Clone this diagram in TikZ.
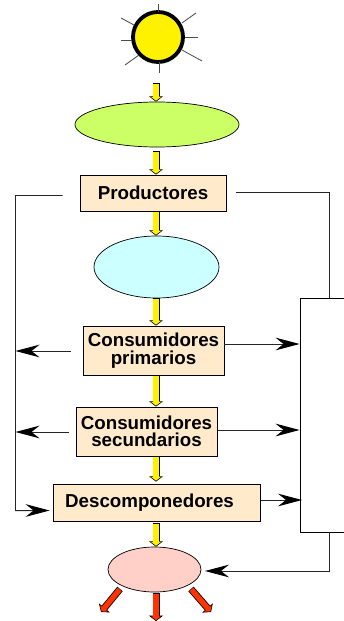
\documentclass[tikz,border=0pt]{standalone}
\usepackage{fontspec}
\setmainfont{Liberation Sans}
\usetikzlibrary{arrows.meta,shapes.geometric}
\definecolor{boxfill}{HTML}{FFEBCC}
\definecolor{algae}{HTML}{CCFF66}
\definecolor{water}{HTML}{CCFFFF}
\definecolor{rose}{HTML}{FFD0C8}
\definecolor{heat}{HTML}{FF3300}
\tikzset{
	trophic/.style={draw,fill=boxfill,line width=.7pt,inner sep=0pt,align=center,font=\fontsize{16}{15}\selectfont\bfseries},
	pool/.style={draw,ellipse,line width=.6pt,inner sep=0pt},
	flow/.style={draw=black,line width=.21cm,-{Triangle[length=.16cm,width=.42cm,line width=.5pt,fill=#1]},
		postaction={draw=#1,line width=.16cm,shorten >=.12cm,shorten <=.5pt,-}},
	link/.style={draw=black!85,line width=.85pt,-{Stealth[length=.72cm,width=.38cm,inset=.24cm,black]}},
	ray/.style={draw=black!70,line width=.7pt}
}
\begin{document}
\begin{tikzpicture}[x=.03cm,y=-.03cm]
	\clip (0,0) rectangle (344,621);
	\coordinate (axis) at (156,0);
	% sun
	\node[circle,draw,fill=yellow,line width=.115cm,minimum size=1.5cm,inner sep=0pt] (sun) at (158,37) {};
	\draw[ray] (158,4) -- (158,12);
	\draw[ray] (196,13) -- (182,23);
	\draw[ray] (198,37) -- (185,37);
	\draw[ray] (202,61) -- (182,50);
	\draw[ray] (159,73) -- (159,62);
	\draw[ray] (125,65) -- (139,55);
	\draw[ray] (121,40) -- (132,40);
	\draw[ray] (121,18) -- (134,25);
	% levels
	\node[pool,fill=algae,minimum width=4.92cm,minimum height=1.35cm] (algae) at (157,124.5) {};
	\node[trophic,minimum width=4.38cm,minimum height=1.08cm] (prod) at (153,193) {Productores};
	\node[pool,fill=water,minimum width=3.75cm,minimum height=1.86cm] (water) at (156.5,267) {};
	\node[trophic,minimum width=4.23cm,minimum height=1.47cm] (prim) at (153.5,350.5) {Consumidores\\primarios};
	\node[trophic,minimum width=4.23cm,minimum height=1.47cm] (sec) at (146.5,431.5) {Consumidores\\secundarios};
	\node[trophic,minimum width=6.21cm,minimum height=1.11cm] (desc) at (156.5,502.5) {Descomponedores\hspace*{.42cm}};
	\node[pool,fill=rose,minimum width=2.79cm,minimum height=1.35cm] (rest) at (154.5,569.5) {};
	\node[draw,line width=.7pt,fill=white,minimum width=1.8cm,minimum height=7.02cm,inner sep=0pt] (sink) at (330,415) {};
	% free ends
	\coordinate (a0) at (156,83);
	\coordinate (a1) at (156,151);
	\coordinate (a6) at (156,523);
	\coordinate (r1) at (120,589);
	\coordinate (r2) at (101,612);
	\coordinate (r3) at (156,593);
	\coordinate (r4) at (156,621);
	\coordinate (r5) at (191,589);
	\coordinate (r6) at (211,612);
	\coordinate (lefttop) at (15.5,195.5);
	\coordinate (righttop) at (329,192);
	\coordinate (rightlow) at (329,571);
	% yellow flow
	\draw[flow=yellow] (a0) -- (axis |- algae.north);
	\draw[flow=yellow] (a1) -- (axis |- prod.north);
	\draw[flow=yellow] (axis |- prod.south) -- (axis |- water.north);
	\draw[flow=yellow] (axis |- water.south) -- (axis |- prim.north);
	\draw[flow=yellow] (axis |- prim.south) -- (axis |- sec.north);
	\draw[flow=yellow] (axis |- sec.south) -- ([yshift=.06cm]axis |- desc.north);
	\draw[flow=yellow] (a6) -- (axis |- rest.north);
	\draw[flow=heat] (r1) -- (r2);
	\draw[flow=heat] (r3) -- (r4);
	\draw[flow=heat] (r5) -- (r6);
	% left side
	\draw[link] ([xshift=-.51cm]prod.west |- lefttop) -- (lefttop) -- (15.5,510.5) -- ([xshift=-.09cm,yshift=-.24cm]desc.west);
	\draw[link] (71,351) -- (15.5,351);
	\draw[link] (69,432) -- (15.5,432);
	% right side
	\draw[draw=black!85,line width=.85pt] ([xshift=.3cm]prod.east |- righttop) -- (righttop) -- (sink.north -| righttop);
	\draw[link] (prim.east |- 0,344) -- (sink.west |- 0,344);
	\draw[link] (218,430) -- (sink.west |- 0,430);
	\draw[link] (261,500) -- (302,500);
	\draw[link] (sink.south -| rightlow) -- (rightlow) -- (205,571);
\end{tikzpicture}
\end{document}
